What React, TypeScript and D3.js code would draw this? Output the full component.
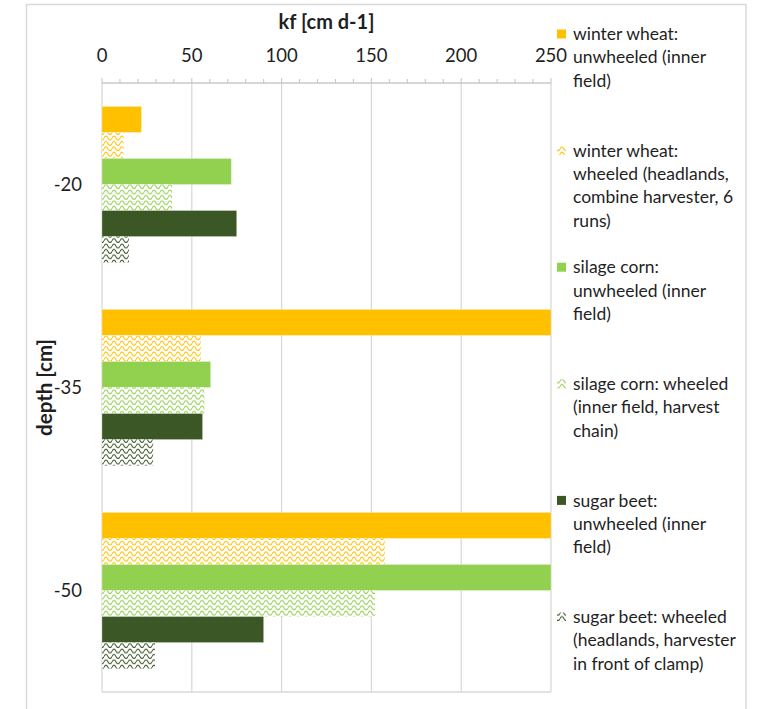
import React from "react";
import * as d3 from "d3";

// Depth classes (cm) shown on the category axis, top to bottom
const depths = ["-20", "-35", "-50"];

// Saturated hydraulic conductivity kf [cm d-1] per depth
const winterWheatUnwheeled = [22, 300, 300];
const winterWheatWheeled = [12, 55, 157.5];
const silageCornUnwheeled = [72, 60.5, 300];
const silageCornWheeled = [39, 57, 152];
const sugarBeetUnwheeled = [75, 56, 90];
const sugarBeetWheeled = [15, 28.5, 29.5];

const xTicks = [0, 50, 100, 150, 200, 250];

const seriesLabels = [
  ["winter wheat:", "unwheeled (inner", "field)"],
  ["winter wheat:", "wheeled (headlands,", "combine harvester, 6", "runs)"],
  ["silage corn:", "unwheeled (inner", "field)"],
  ["silage corn: wheeled", "(inner field, harvest", "chain)"],
  ["sugar beet:", "unwheeled (inner", "field)"],
  ["sugar beet: wheeled", "(headlands, harvester", "in front of clamp)"],
];

const WHEAT = "#FFC000";
const CORN = "#92D050";
const BEET = "#3B5725";

type Series = {
  key: string;
  values: number[];
  color: string;
  hatched: boolean;
  label: string[];
};

const series: Series[] = [
  { key: "wwU", values: winterWheatUnwheeled, color: WHEAT, hatched: false, label: seriesLabels[0] },
  { key: "wwW", values: winterWheatWheeled, color: WHEAT, hatched: true, label: seriesLabels[1] },
  { key: "scU", values: silageCornUnwheeled, color: CORN, hatched: false, label: seriesLabels[2] },
  { key: "scW", values: silageCornWheeled, color: CORN, hatched: true, label: seriesLabels[3] },
  { key: "sbU", values: sugarBeetUnwheeled, color: BEET, hatched: false, label: seriesLabels[4] },
  { key: "sbW", values: sugarBeetWheeled, color: BEET, hatched: true, label: seriesLabels[5] },
];

const FONT = "Lato, 'Open Sans', sans-serif";
const TEXT = "#1f1f1f";
const GRID = "#d9d9d9";

export default function App() {
  const width = 762;
  const height = 709;
  const plot = { left: 102, right: 551, top: 83, bottom: 692 };

  // Axis is capped at 250; longer bars are cut off at the plot edge
  const x = d3.scaleLinear().domain([0, 250]).range([plot.left, plot.right]).clamp(true);
  const yCat = d3.scaleBand<string>().domain(depths).range([plot.top, plot.bottom]);
  const ySer = d3
    .scaleBand<string>()
    .domain(series.map((s) => s.key))
    .range([0, yCat.step()])
    .paddingInner(0)
    .paddingOuter(0.9);

  const minorTicks = d3.range(0, 251, 10);

  const legendX = 557;
  const legendTextX = 573;
  const legendTop = 34;
  const legendStep = 116.6;
  const lineH = 23.3;

  const wavePath = "M0,3.2 C1.3,0.3 2.7,0.3 4,3.2 C5.3,5.6 6.7,5.6 8,3.2";

  return (
    <svg
      width={width}
      height={height}
      style={{ position: "absolute", left: 0, top: 0, background: "#fff" }}
      fontFamily={FONT}
    >
      <defs>
        {series
          .filter((s) => s.hatched)
          .map((s) => (
            <pattern
              key={s.key}
              id={`wave-${s.key}`}
              width={8}
              height={5.4}
              patternUnits="userSpaceOnUse"
            >
              <rect width={8} height={5.4} fill="#fff" />
              <path d={wavePath} fill="none" stroke={s.color} strokeWidth={1.1} />
            </pattern>
          ))}
      </defs>

      {/* chart frame */}
      <rect x={26.5} y={4.5} width={719.5} height={720} fill="#fff" stroke={GRID} strokeWidth={1.5} />

      {/* vertical gridlines */}
      {xTicks.slice(1).map((t) => (
        <line key={t} x1={x(t)} x2={x(t)} y1={plot.top} y2={plot.bottom} stroke={GRID} strokeWidth={1.3} />
      ))}
      {/* plot bottom edge and value axis origin */}
      <line x1={plot.left} x2={plot.right} y1={plot.bottom} y2={plot.bottom} stroke={GRID} strokeWidth={1.3} />
      <line x1={plot.left} x2={plot.left} y1={plot.top} y2={plot.bottom} stroke={GRID} strokeWidth={1.3} />

      {/* value axis on top */}
      <line x1={plot.left} x2={plot.right} y1={plot.top} y2={plot.top} stroke="#c8c8c8" strokeWidth={1.3} />
      {minorTicks.map((t) => (
        <line
          key={t}
          x1={x(t)}
          x2={x(t)}
          y1={plot.top}
          y2={plot.top - (t % 50 === 0 ? 5 : 4)}
          stroke="#c8c8c8"
          strokeWidth={1.1}
        />
      ))}
      {xTicks.map((t) => (
        <text key={t} x={x(t)} y={56} dy="0.35em" textAnchor="middle" fontSize={18.5} fill={TEXT}>
          {t}
        </text>
      ))}
      <text
        x={(plot.left + plot.right) / 2}
        y={22}
        dy="0.35em"
        textAnchor="middle"
        fontSize={20}
        fontWeight="bold"
        fill={TEXT}
      >
        kf [cm d-1]
      </text>

      {/* category axis */}
      {depths.map((d) => (
        <text
          key={d}
          x={82}
          y={(yCat(d) ?? 0) + yCat.bandwidth() / 2}
          dy="0.35em"
          textAnchor="end"
          fontSize={18.5}
          fill={TEXT}
        >
          {d}
        </text>
      ))}
      <text
        transform={`translate(45, ${(plot.top + plot.bottom) / 2}) rotate(-90)`}
        dy="0.35em"
        textAnchor="middle"
        fontSize={20.5}
        fontWeight="bold"
        fill={TEXT}
      >
        depth [cm]
      </text>

      {/* bars */}
      {series.map((s) =>
        depths.map((d, i) => {
          const y0 = (yCat(d) ?? 0) + (ySer(s.key) ?? 0);
          return (
            <rect
              key={`${s.key}-${d}`}
              x={x(0)}
              y={y0}
              width={x(s.values[i]) - x(0)}
              height={ySer.bandwidth()}
              fill={s.hatched ? `url(#wave-${s.key})` : s.color}
              stroke={s.hatched ? "none" : "rgba(255,255,255,0.35)"}
              strokeWidth={0.8}
            />
          );
        })
      )}

      {/* legend */}
      {series.map((s, i) => {
        const top = legendTop + i * legendStep;
        return (
          <g key={s.key}>
            <rect
              x={legendX}
              y={top - 4.5}
              width={9}
              height={9}
              fill={s.hatched ? `url(#wave-${s.key})` : s.color}
            />
            {s.label.map((line, j) => (
              <text
                key={j}
                x={legendTextX}
                y={top + j * lineH}
                dy="0.35em"
                fontSize={17.5}
                fill={TEXT}
              >
                {line}
              </text>
            ))}
          </g>
        );
      })}
    </svg>
  );
}
